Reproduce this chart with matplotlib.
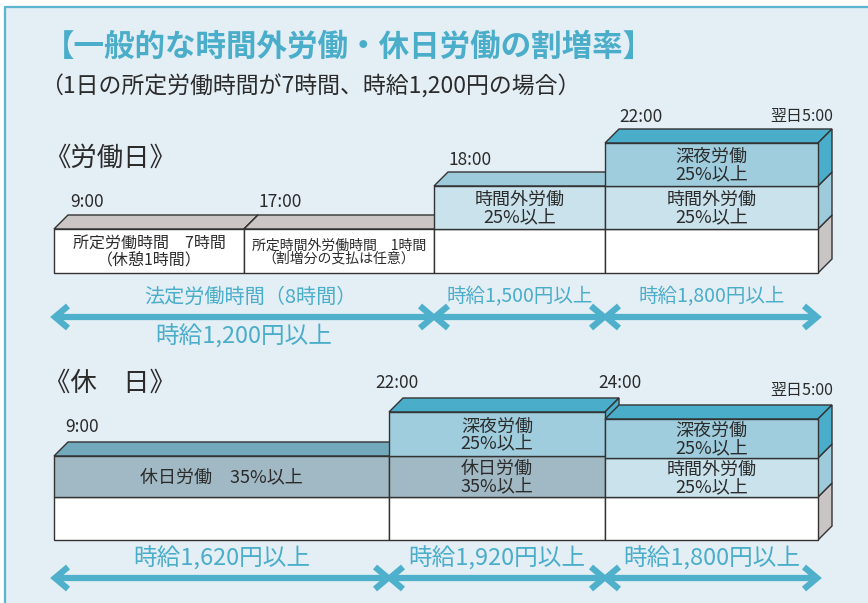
import matplotlib
matplotlib.use('Agg')
import matplotlib.pyplot as plt
from matplotlib.patches import Polygon, Rectangle

plt.rcParams['font.family'] = ['Noto Sans CJK JP', 'DejaVu Sans']

# ---- data ----
title = '【一般的な時間外労働・休日労働の割増率】'
subtitle = '（1日の所定労働時間が7時間、時給1,200円の場合）'

work_head = '《労働日》'
work_times = ['9:00', '17:00', '18:00', '22:00', '翌日5:00']
work_kinds = [['base'], ['base'], ['base', 'over'], ['base', 'over', 'night']]
work_texts = [['所定労働時間　7時間\n（休憩1時間）'],
              ['所定時間外労働時間　1時間\n（割増分の支払は任意）'],
              ['', '時間外労働\n25%以上'],
              ['', '時間外労働\n25%以上', '深夜労働\n25%以上']]
work_note = '法定労働時間（8時間）'
work_wages = ['時給1,200円以上', '時給1,500円以上', '時給1,800円以上']

hol_head = '《休　日》'
hol_times = ['9:00', '22:00', '24:00', '翌日5:00']
hol_kinds = [['base', 'holiday'], ['base', 'holiday', 'night'], ['base', 'over', 'night']]
hol_texts = [['', '休日労働　35%以上'],
             ['', '休日労働\n35%以上', '深夜労働\n25%以上'],
             ['', '時間外労働\n25%以上', '深夜労働\n25%以上']]
hol_wages = ['時給1,620円以上', '時給1,920円以上', '時給1,800円以上']

# ---- layout (pixels) ----
BG = '#e3eef5'
BLUE = '#4aadc9'
INK = '#2b2b2b'
front_col = {'base': 'white', 'over': '#c9e2ec', 'night': '#9fcdde', 'holiday': '#a1b9c4'}
side_col = {'base': '#c9c5c5', 'over': '#9dcbdc', 'night': BLUE, 'holiday': '#a1b9c4'}
top_col = {'base': '#cbc6c5', 'over': '#9dcbdc', 'night': BLUE, 'holiday': '#72a9bc'}
D = 14  # depth of the 3d faces

work_x = [54, 244, 434, 605, 818]
work_y = [273, 229, 186, 143]
work_fs = [11.5, 10, 13, 13]
hol_x = [54, 389, 605, 818]
hol_y = [[540, 497, 456], [540, 497, 456, 412], [540, 497, 458, 419]]

work_tpos = [(70, 202, 'left'), (258, 202, 'left'), (449, 160, 'left'), (619, 117, 'left'), (833, 117, 'right')]
hol_tpos = [(65, 427, 'left'), (375, 383, 'left'), (598, 383, 'left'), (833, 391, 'right')]

fig = plt.figure(figsize=(8.68, 6.03), dpi=100)
fig.patch.set_facecolor('white')
ax = fig.add_axes([0, 0, 1, 1])
ax.set_xlim(0, 868)
ax.set_ylim(603, 0)
ax.axis('off')

ax.add_patch(Rectangle((5, 7), 870, 600, facecolor=BG, edgecolor='none'))
ax.plot([5, 5, 870], [605, 7, 7], color='#5bb5d0', lw=1.6)

ax.text(44, 47, title, fontsize=22, fontweight='bold', color=BLUE, va='center', ha='left')
ax.text(40, 87, subtitle, fontsize=16.5, color=INK, va='center', ha='left')


def block(x0, x1, ys, kinds, texts, fs):
    # top face
    top = ys[-1]
    ax.add_patch(Polygon([(x0, top), (x0 + D, top - D), (x1 + D, top - D), (x1, top)],
                         closed=True, facecolor=top_col[kinds[-1]], edgecolor='#333333', lw=1))
    for i, k in enumerate(kinds):
        yb, yt = ys[i], ys[i + 1]
        ax.add_patch(Polygon([(x1, yb), (x1 + D, yb - D), (x1 + D, yt - D), (x1, yt)],
                             closed=True, facecolor=side_col[k], edgecolor='#333333', lw=1))
    for i, k in enumerate(kinds):
        yb, yt = ys[i], ys[i + 1]
        ax.add_patch(Rectangle((x0, yt), x1 - x0, yb - yt, facecolor=front_col[k],
                               edgecolor='#333333', lw=1))
        if texts[i]:
            ax.text((x0 + x1) / 2, (yb + yt) / 2 + 1, texts[i], fontsize=fs, color=INK,
                    ha='center', va='center', linespacing=0.92)


def arrow(x0, x1, y):
    kw = dict(color='#4fb0cb', lw=4.5, solid_capstyle='butt', solid_joinstyle='miter')
    ax.plot([x0 + 2, x1 - 2], [y, y], **kw)
    ax.plot([x0 + 14, x0 + 1, x0 + 14], [y - 11, y, y + 11], **kw)
    ax.plot([x1 - 14, x1 - 1, x1 - 14], [y - 11, y, y + 11], **kw)


# working day
ax.text(44, 158, work_head, fontsize=19, color=INK, va='center', ha='left')
for i in range(len(work_kinds)):
    ys = work_y[:len(work_kinds[i]) + 1]
    block(work_x[i], work_x[i + 1], ys, work_kinds[i], work_texts[i], work_fs[i])
for t, (x, y, ha) in zip(work_times, work_tpos):
    ax.text(x, y, t, fontsize=11.5 if '翌' in t else 12.5, color=INK, ha=ha, va='center')

wx = [work_x[0], work_x[2], work_x[3], work_x[4]]
for j in range(3):
    a, b = wx[j], wx[j + 1]
    arrow(a, b, 317)
    lab = work_note if j == 0 else work_wages[j]
    ax.text((a + b) / 2 + (6 if j == 0 else 0), 297, lab, fontsize=14.5 if j == 0 else 14,
            color=BLUE, ha='center', va='center')
ax.text((wx[0] + wx[1]) / 2, 336, work_wages[0], fontsize=17, color=BLUE,
        ha='center', va='center')

# holiday
ax.text(44, 383, hol_head, fontsize=19, color=INK, va='center', ha='left')
for i in range(len(hol_kinds)):
    block(hol_x[i], hol_x[i + 1], hol_y[i], hol_kinds[i], hol_texts[i], 13)
for t, (x, y, ha) in zip(hol_times, hol_tpos):
    ax.text(x, y, t, fontsize=11.5 if '翌' in t else 12.5, color=INK, ha=ha, va='center')

for j in range(3):
    a, b = hol_x[j], hol_x[j + 1]
    arrow(a, b, 578)
    ax.text((a + b) / 2, 558, hol_wages[j], fontsize=17, color=BLUE,
            ha='center', va='center')

fig.savefig('out.png', dpi=100, facecolor='white')
